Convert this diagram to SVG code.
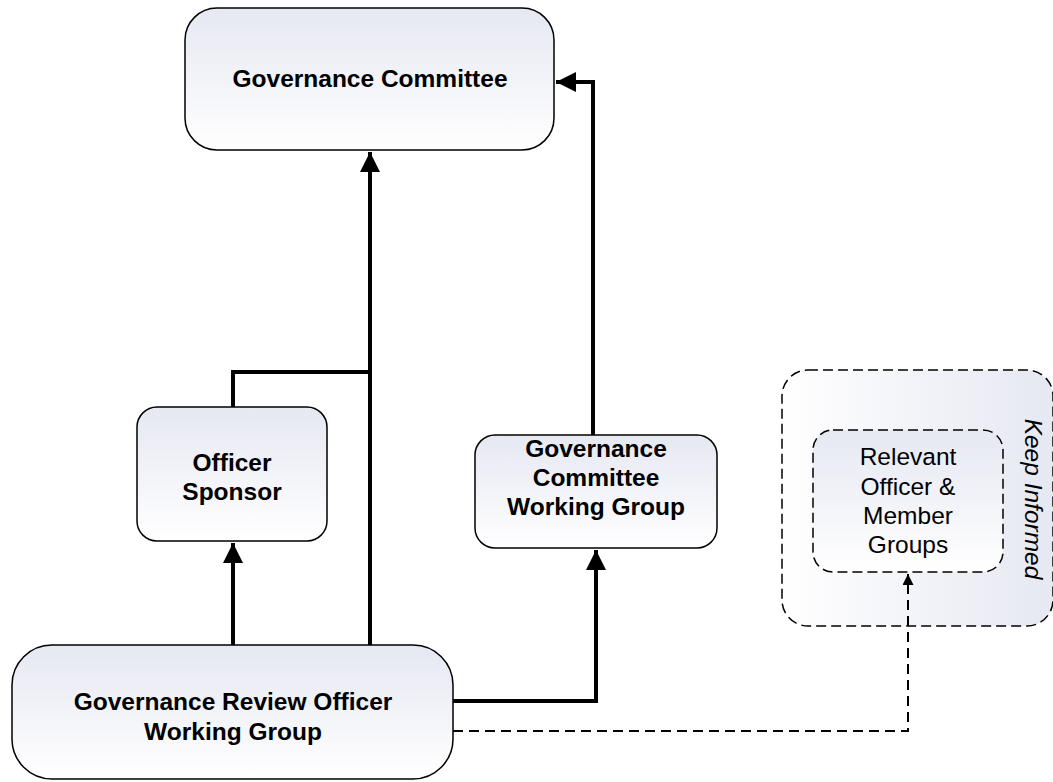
<svg xmlns="http://www.w3.org/2000/svg" width="1053" height="782" viewBox="0 0 1053 782">
<defs>
<linearGradient id="gv" x1="0" y1="0" x2="0" y2="1"><stop offset="0" stop-color="#E6E8F2"/><stop offset="1" stop-color="#FFFFFF"/></linearGradient>
<linearGradient id="gh" x1="0" y1="0" x2="1" y2="0"><stop offset="0" stop-color="#FFFFFF"/><stop offset="1" stop-color="#E6E8F2"/></linearGradient>
<marker id="ah" viewBox="0 0 10 10" refX="10" refY="5" markerWidth="5" markerHeight="5" orient="auto" markerUnits="strokeWidth"><path d="M0,0 L10,5 L0,10 z" fill="#000"/></marker>
<marker id="ahs" viewBox="0 0 10 10" refX="10" refY="5" markerWidth="6" markerHeight="5.5" orient="auto" markerUnits="strokeWidth"><path d="M0,0 L10,5 L0,10 z" fill="#000"/></marker>
<style>
.node{fill:url(#gv);stroke:#000;stroke-width:1.5}
.dash{stroke:#000;stroke-width:1.5;stroke-dasharray:10 5}
.b{font-family:"Liberation Sans",Arial,sans-serif;font-weight:bold;font-size:24.5px;text-anchor:middle;fill:#000}
.r{font-family:"Liberation Sans",Arial,sans-serif;font-size:24.5px;text-anchor:middle;fill:#000}
.c{fill:none;stroke:#000;stroke-width:4}
.cd{fill:none;stroke:#000;stroke-width:2;stroke-dasharray:10 6}
</style>
</defs>
<g id="keep-informed">
<rect x="782" y="370" width="271" height="256" rx="26" fill="url(#gh)" class="dash"/>
<text class="r" font-style="italic" transform="translate(1025,499) rotate(90)" x="0" y="0">Keep Informed</text>
</g>
<g id="relevant-groups">
<rect x="813" y="430" width="190" height="142" rx="20" fill="url(#gv)" class="dash"/>
<text class="r" x="908" y="465">Relevant</text>
<text class="r" x="908" y="495">Officer &amp;</text>
<text class="r" x="908" y="524">Member</text>
<text class="r" x="908" y="553">Groups</text>
</g>
<g id="connectors">
<path class="c" d="M370,645 V152" marker-end="url(#ah)"/>
<path class="c" d="M233,407 V372 H370"/>
<path class="c" d="M593,435 V82 H556" marker-end="url(#ah)"/>
<path class="c" d="M233,645 V543" marker-end="url(#ah)"/>
<path class="c" d="M453,701 H596 V550" marker-end="url(#ah)"/>
<path class="cd" d="M453,731 H908 V574" marker-end="url(#ahs)"/>
</g>
<g id="governance-committee">
<rect x="185" y="8" width="369" height="142" rx="32" class="node"/>
<text class="b" x="370" y="87">Governance Committee</text>
</g>
<g id="officer-sponsor">
<rect x="137" y="407" width="190" height="134" rx="20" class="node"/>
<text class="b" x="232" y="471">Officer</text>
<text class="b" x="232" y="500">Sponsor</text>
</g>
<g id="gc-working-group">
<rect x="475" y="435" width="242" height="113" rx="20" class="node"/>
<text class="b" x="596" y="457">Governance</text>
<text class="b" x="596" y="486">Committee</text>
<text class="b" x="596" y="515">Working Group</text>
</g>
<g id="review-working-group">
<rect x="12" y="645" width="441" height="134" rx="40" class="node"/>
<text class="b" x="233" y="710">Governance Review Officer</text>
<text class="b" x="233" y="740">Working Group</text>
</g>
</svg>
